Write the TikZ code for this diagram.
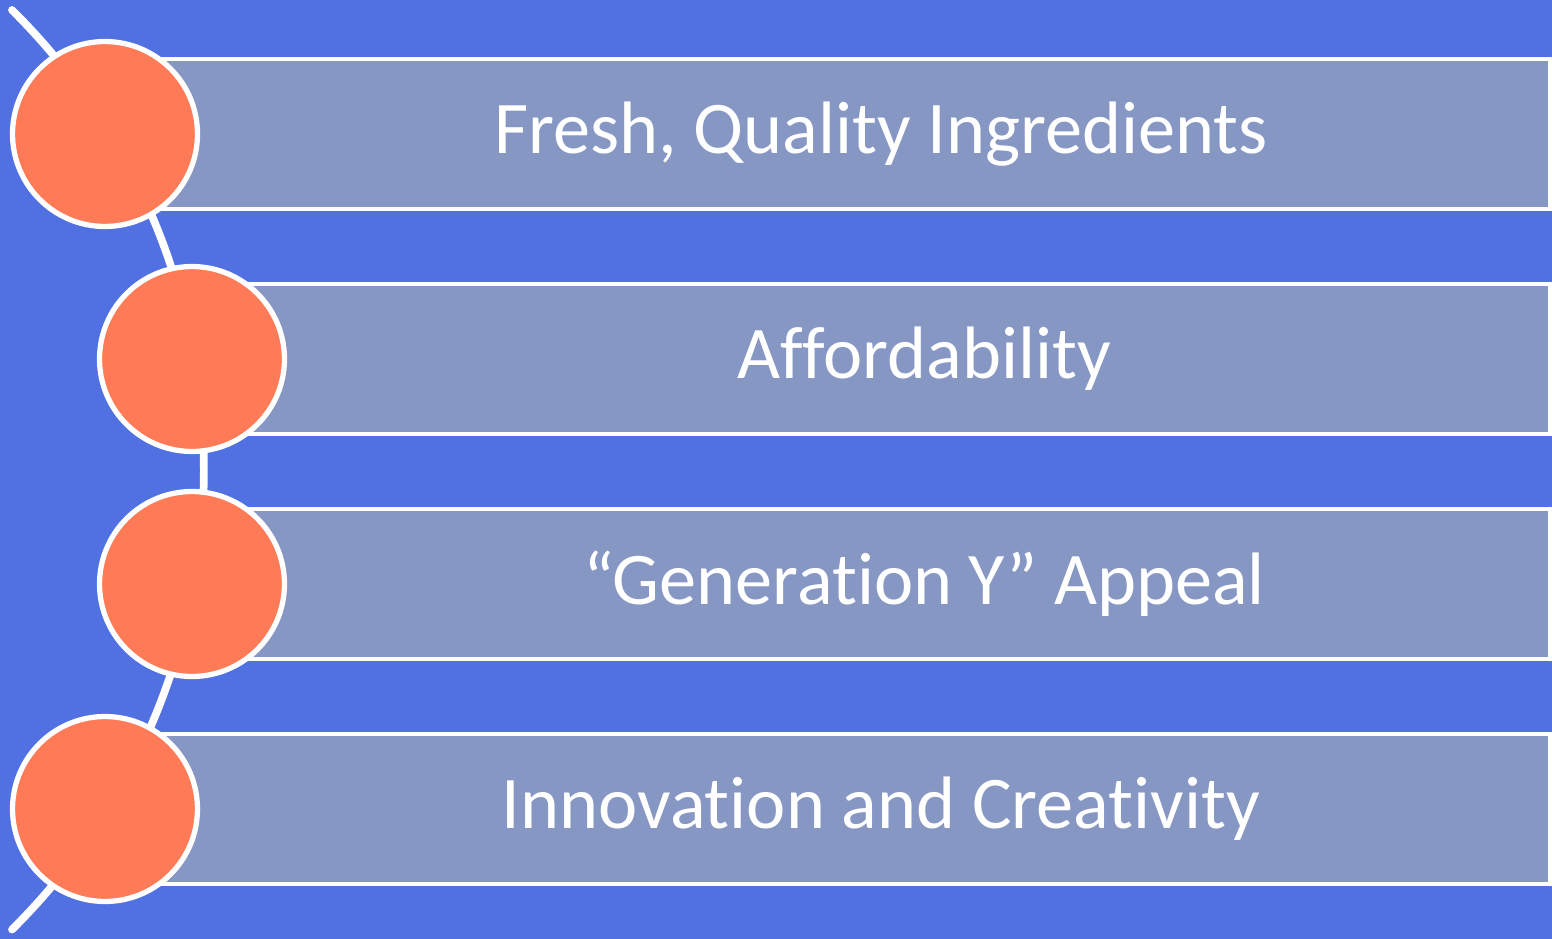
\documentclass[tikz,border=0pt]{standalone}
\usepackage{fontspec}
\setmainfont{Carlito}[Ligatures=NoCommon]
\definecolor{deskblue}{RGB}{81,112,226}
\definecolor{bargrey}{RGB}{135,151,196}
\definecolor{dotorange}{RGB}{255,123,87}
\begin{document}
\begin{tikzpicture}[x=0.02cm, y=-0.02cm, line join=miter,
        bar/.style={draw=white, line width=2.3pt, fill=bargrey, minimum width=28.9cm, minimum height=3cm, outer sep=0pt, anchor=west},
        dot/.style={circle, draw=white, line width=3pt, fill=dotorange, minimum size=3.7cm, inner sep=0pt},
        label/.style={text=white, font=\fontsize{42.3}{50}\selectfont},
        track/.style={draw=white, line width=4.4pt, line cap=round}]
    \fill[deskblue] (0,0) rectangle (1552,939);
    \useasboundingbox (0,0) rectangle (1552,939);
    % the curved track behind the dots
    \draw[track] (12,10) arc[start angle=45.3, end angle=-45.3, radius=12.94cm];
    % bars
    \node[bar] (bar1) at (105,134) {};
    \node[bar, minimum width=27.16cm] (bar2) at (192,359) {};
    \node[bar, minimum width=27.16cm] (bar3) at (192,584) {};
    \node[bar] (bar4) at (105,809) {};
    % dots
    \node[dot] (dot1) at (105,134) {};
    \node[dot] (dot2) at (192,359) {};
    \node[dot] (dot3) at (192,584) {};
    \node[dot] (dot4) at (105,809) {};
    % texts
    \node[label] (txt1) at (881,134) {Fresh, Quality Ingredients};
    \node[label] (txt2) at (924,359) {Affordability};
    \node[label] (txt3) at (924,584) {“Generation Y” Appeal};
    \node[label] (txt4) at (881,809) {Innovation and Creativity};
\end{tikzpicture}
\end{document}
